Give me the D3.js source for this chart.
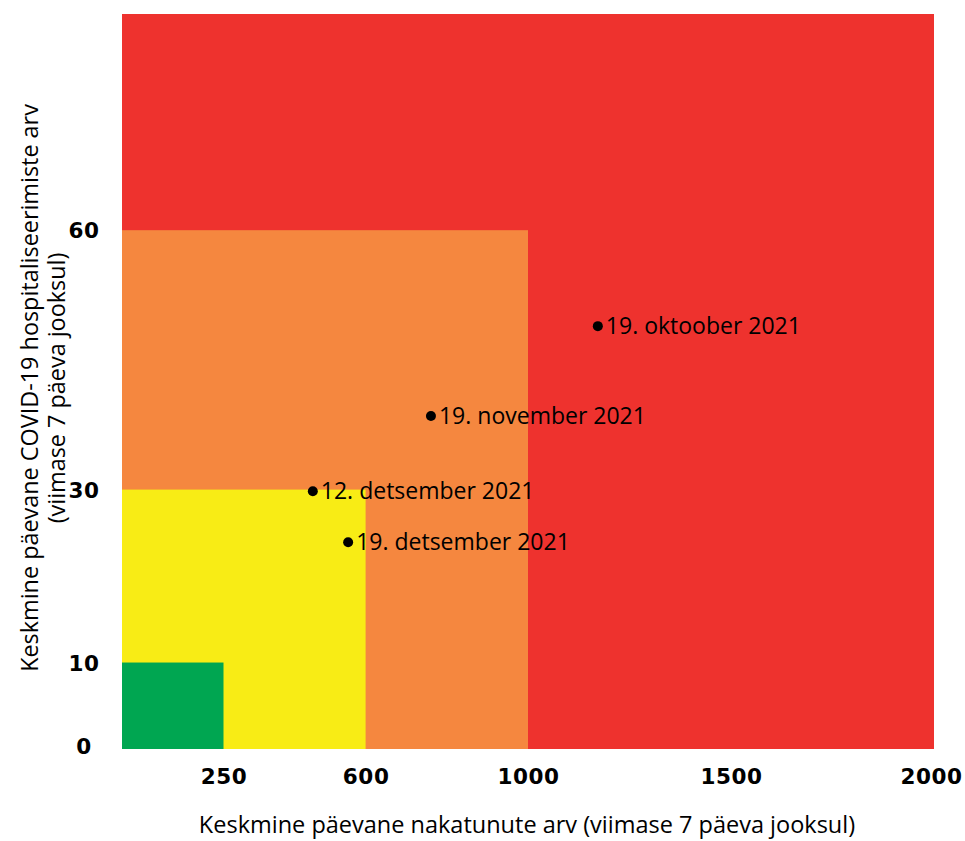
<!DOCTYPE html>
<html><head><meta charset="utf-8">
<script src="https://cdn.jsdelivr.net/npm/d3@7"></script>
<style>body{margin:0;background:#fff}svg{display:block}</style>
</head><body>
<svg id="c" width="965" height="841"></svg>
<script>
const zones = [
  {name:"red", xMax:2000, yMax:85, color:"#EE322E"},
  {name:"orange", xMax:1000, yMax:60, color:"#F5873F"},
  {name:"yellow", xMax:600, yMax:30, color:"#F8EC15"},
  {name:"green", xMax:250, yMax:10, color:"#00A651"}
];
const pointLabels = ["19. oktoober 2021","19. november 2021","12. detsember 2021","19. detsember 2021"];
const pointX = [1172, 761, 470, 557];
const pointY = [48.9, 38.5, 29.8, 23.9];
const xTicks = [250, 600, 1000, 1500, 2000];
const yTicks = [0, 10, 30, 60];

const svg = d3.select("#c");
const x = d3.scaleLinear().domain([0,2000]).range([122,934]);
const y = d3.scaleLinear().domain([0,85]).range([749,14]);
const font = "'Open Sans', sans-serif";
const boldFont = "'DejaVu Sans', sans-serif";

svg.selectAll("rect.z").data(zones).join("rect").attr("class","z")
  .attr("x", x(0)).attr("y", d=>y(d.yMax))
  .attr("width", d=>x(d.xMax)-x(0)).attr("height", d=>y(0)-y(d.yMax))
  .attr("fill", d=>d.color);

const xa = svg.append("g").attr("transform","translate(0,776)")
  .call(d3.axisBottom(x).tickValues(xTicks).tickSize(0).tickPadding(0).tickFormat(d3.format("d")));
xa.select(".domain").remove();
xa.selectAll("text").attr("font-family",boldFont).attr("font-weight","bold").attr("font-size",21.5)
  .attr("fill","#000").attr("dy","0.35em").attr("letter-spacing","0.6");
xa.selectAll(".tick").filter(d=>d===2000).select("text").attr("dx",-3);

const ya = svg.append("g").attr("transform","translate(84,0)")
  .call(d3.axisLeft(y).tickValues(yTicks).tickSize(0).tickPadding(0).tickFormat(d3.format("d")));
ya.select(".domain").remove();
ya.selectAll("text").attr("font-family",boldFont).attr("font-weight","bold").attr("font-size",21.5)
  .attr("fill","#000").attr("text-anchor","middle").attr("dy","0.35em").attr("letter-spacing","0.6");
ya.selectAll(".tick").filter(d=>d===0).attr("transform",`translate(0,${y(0)-3})`);

const pts = pointX.map((v,i)=>({x:v,y:pointY[i],label:pointLabels[i]}));
const pg = svg.selectAll("g.p").data(pts).join("g").attr("class","p")
  .attr("transform", d=>`translate(${x(d.x)},${y(d.y)})`);
pg.append("circle").attr("r",5).attr("fill","#000");
pg.append("text").attr("x",8).attr("dy","0.35em").attr("font-family",font)
  .attr("font-size",23).attr("fill","#000").text(d=>d.label);

svg.append("text").attr("x",527).attr("y",825).attr("dy","0.35em").attr("text-anchor","middle")
  .attr("font-family",font).attr("font-size",23.5).attr("fill","#000")
  .text("Keskmine päevane nakatunute arv (viimase 7 päeva jooksul)");

const yt = svg.append("text").attr("transform","translate(30,388) rotate(-90)")
  .attr("text-anchor","middle").attr("font-family",font).attr("font-size",23.4).attr("fill","#000");
yt.append("tspan").attr("x",0).attr("dy","0.35em").text("Keskmine päevane COVID-19 hospitaliseerimiste arv");
yt.append("tspan").attr("x",0).attr("dy","1.15em").text("(viimase 7 päeva jooksul)");
</script>
</body></html>
